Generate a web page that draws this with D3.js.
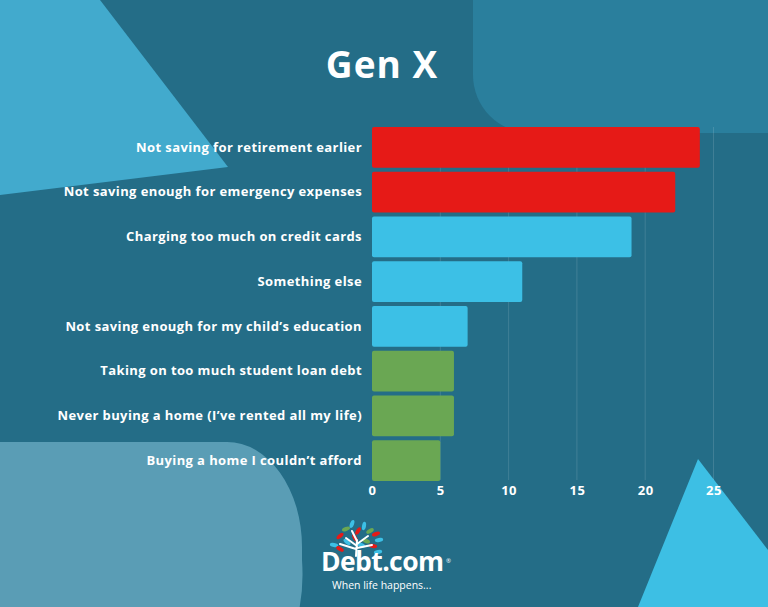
<!DOCTYPE html>
<html><head><meta charset="utf-8">
<script src="https://cdn.jsdelivr.net/npm/d3@7"></script>
<style>html,body{margin:0;padding:0;background:#246d87;overflow:hidden}svg{display:block}</style>
</head><body>
<svg id="chart" width="768" height="607"></svg>
<script>
const categories = [
  "Not saving for retirement earlier",
  "Not saving enough for emergency expenses",
  "Charging too much on credit cards",
  "Something else",
  "Not saving enough for my child\u2019s education",
  "Taking on too much student loan debt",
  "Never buying a home (I\u2019ve rented all my life)",
  "Buying a home I couldn\u2019t afford"
];
const values = [24, 22.2, 19, 11, 7, 6, 6, 5];
const groups = ["high", "high", "mid", "mid", "mid", "low", "low", "low"];
const ticks = [0, 5, 10, 15, 20, 25];
const title = "Gen X";

const W = 768, H = 607;
const svg = d3.select("#chart");
const FONT = "'Open Sans', sans-serif";

// background
svg.append("rect").attr("width", W).attr("height", H).attr("fill", "#246d87");
// top-right rounded panel
svg.append("rect").attr("x", 473).attr("y", -80).attr("width", 400).attr("height", 213)
  .attr("rx", 58).attr("fill", "#2a7f9d");
// top-left triangle
svg.append("path").attr("d", "M0,0 L100,0 L228,167 L0,195 Z").attr("fill", "#42aacd");
// bottom-left rounded shape
svg.append("path").attr("d", "M-10,442 L227,442 A75,105 0 0 1 302,547 L302,560 A75,120 0 0 1 290,640 L-10,640 Z")
  .attr("fill", "#5a9db5");
// bottom-right triangle
svg.append("path").attr("d", "M698,459 L768,550 L768,607 L638,607 Z").attr("fill", "#3dbfe4");

// title
svg.append("text").attr("x", 382).attr("y", 78).attr("text-anchor", "middle")
  .attr("fill", "#ffffff").attr("font-family", FONT).attr("font-weight", 700)
  .attr("font-size", 37).attr("letter-spacing", 1).text(title);

const x = d3.scaleLinear().domain([0, 25]).range([372, 713.5]);
const y = d3.scaleBand().domain(categories).range([127, 481]).paddingInner(0.09).paddingOuter(0);
const color = d3.scaleOrdinal().domain(["high", "mid", "low"]).range(["#e61a17", "#3cc0e6", "#6aa753"]);

// gridlines
svg.append("g").selectAll("line").data(ticks.slice(1)).join("line")
  .attr("x1", d => x(d)).attr("x2", d => x(d))
  .attr("y1", 127).attr("y2", 480)
  .attr("stroke", "#ffffff").attr("stroke-opacity", 0.13).attr("stroke-width", 1);

// bars
const data = categories.map((c, i) => ({ c, v: values[i], g: groups[i] }));
svg.append("g").selectAll("rect").data(data).join("rect")
  .attr("x", x(0)).attr("y", d => y(d.c))
  .attr("width", d => x(d.v) - x(0)).attr("height", y.bandwidth())
  .attr("rx", 2).attr("fill", d => color(d.g));

// category labels
const yAxis = d3.axisLeft(y).tickSize(0).tickPadding(10);
const ga = svg.append("g").attr("transform", `translate(${x(0)},0)`).call(yAxis);
ga.select(".domain").remove();
ga.selectAll("text").attr("fill", "#ffffff").attr("font-family", FONT)
  .attr("font-weight", 700).attr("font-size", 13).attr("letter-spacing", 0.4);

// x tick labels
const xAxis = d3.axisBottom(x).tickValues(ticks).tickSize(0).tickPadding(0);
const gx = svg.append("g").attr("transform", "translate(0,486)").call(xAxis);
gx.select(".domain").remove();
gx.selectAll("text").attr("fill", "#ffffff").attr("font-family", FONT)
  .attr("font-weight", 700).attr("font-size", 13).attr("letter-spacing", 0.5);

// logo
const logo = svg.append("g");
const leaves = [
  [340,536,"#e61a17",-40],[346,529,"#6aa753",-20],[352,524,"#3cc0e6",-70],[358,531,"#e61a17",-60],
  [364,526,"#3cc0e6",-80],[370,531,"#6aa753",-30],[376,534,"#e61a17",-20],[379,540,"#3cc0e6",-10],
  [334,545,"#3cc0e6",10],[340,549,"#e61a17",30],[347,542,"#3cc0e6",40],[366,541,"#6aa753",20],
  [373,546,"#e61a17",10],[378,552,"#3cc0e6",-10],[355,538,"#e61a17",60],[361,545,"#3cc0e6",20]
];
logo.selectAll("ellipse").data(leaves).join("ellipse")
  .attr("cx", d => d[0]).attr("cy", d => d[1]).attr("rx", 4.2).attr("ry", 2).attr("fill", d => d[2])
  .attr("transform", d => `rotate(${d[3]},${d[0]},${d[1]})`);
logo.append("path")
  .attr("d", "M356,556 L357,540 M357,546 L346,538 M357,544 L368,536 M357,541 L352,531 M357,548 L372,545 M356,549 L340,544")
  .attr("stroke", "#ffffff").attr("stroke-width", 2).attr("stroke-linecap", "round").attr("fill", "none");
logo.append("text").attr("x", 321).attr("y", 571).attr("fill", "#ffffff")
  .attr("font-family", FONT).attr("font-weight", 700).attr("font-size", 26.5).attr("letter-spacing", -0.6)
  .text("Debt.com");
logo.append("text").attr("x", 446).attr("y", 563).attr("fill", "#ffffff")
  .attr("font-family", FONT).attr("font-size", 6).text("\u00ae");
logo.append("text").attr("x", 332).attr("y", 589).attr("fill", "#ffffff")
  .attr("font-family", FONT).attr("font-size", 10.5).text("When life happens...");
</script>
</body></html>
